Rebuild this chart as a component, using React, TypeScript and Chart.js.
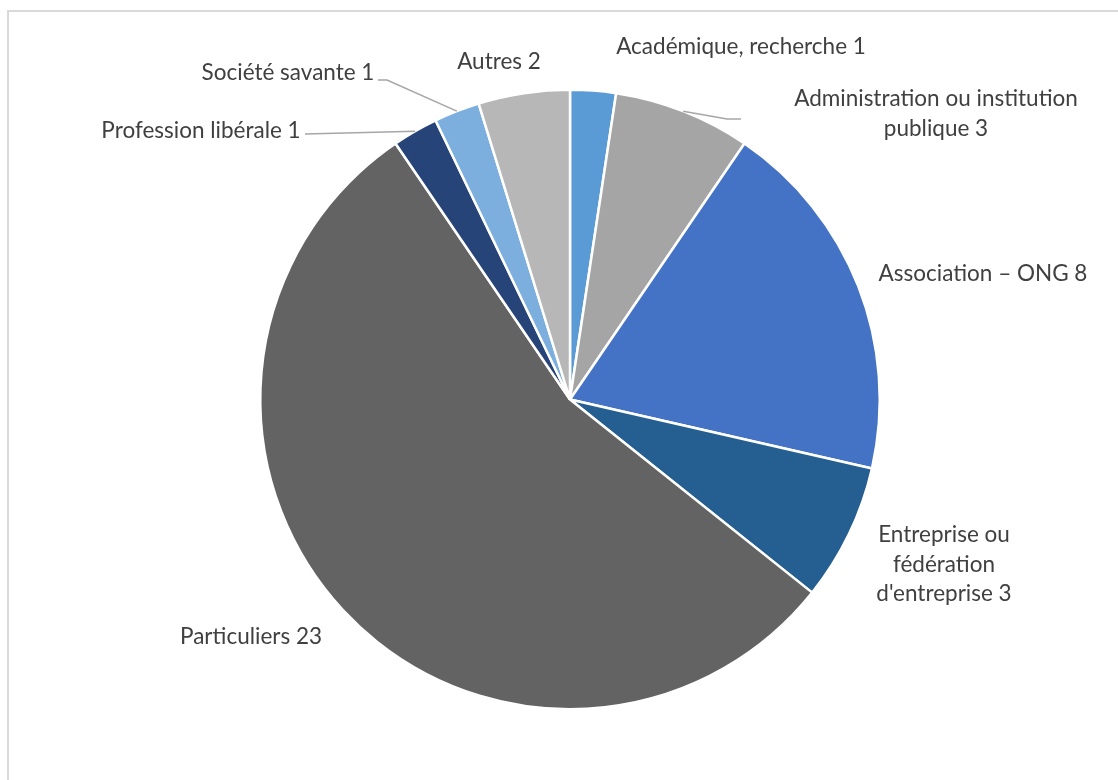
import React, { useEffect, useRef } from "react";
import { Chart, registerables } from "chart.js";

Chart.register(...registerables);

const categories = [
  "Académique, recherche",
  "Administration ou institution publique",
  "Association – ONG",
  "Entreprise ou fédération d'entreprise",
  "Particuliers",
  "Profession libérale",
  "Société savante",
  "Autres",
];
const values = [1, 3, 8, 3, 23, 1, 1, 2];
const colors = [
  "#5B9BD5",
  "#A5A5A5",
  "#4472C4",
  "#255E91",
  "#636363",
  "#264478",
  "#7CAFDD",
  "#B7B7B7",
];
const labelLines = [
  ["Académique, recherche 1"],
  ["Administration ou institution", "publique 3"],
  ["Association – ONG 8"],
  ["Entreprise ou", "fédération", "d'entreprise 3"],
  ["Particuliers 23"],
  ["Profession libérale 1"],
  ["Société savante 1"],
  ["Autres 2"],
];

// label layout (text centre x, first-line centre y), and optional leader line points
const labelLayout = [
  { x: 741, y: 47 },
  { x: 936, y: 99, leader: [[727, 119], [741, 119]] },
  { x: 983, y: 274 },
  { x: 944, y: 535 },
  { x: 251, y: 637 },
  { x: 201, y: 131, leader: [[305, 134]] },
  { x: 288, y: 73, leader: [[387, 80], [378, 80]] },
  { x: 499, y: 62 },
];

const FONT = "Lato, 'Open Sans', sans-serif";

const labelPlugin = {
  id: "pieLabels",
  afterDraw(chart: any) {
    const ctx = chart.ctx;
    const meta = chart.getDatasetMeta(0);
    ctx.save();
    meta.data.forEach((arc: any, i: number) => {
      const lay = labelLayout[i];
      if (lay.leader) {
        const mid = (arc.startAngle + arc.endAngle) / 2;
        const sx = arc.x + Math.cos(mid) * arc.outerRadius;
        const sy = arc.y + Math.sin(mid) * arc.outerRadius;
        ctx.beginPath();
        ctx.moveTo(sx, sy);
        lay.leader.forEach((p: number[]) => ctx.lineTo(p[0], p[1]));
        ctx.strokeStyle = "#A6A6A6";
        ctx.lineWidth = 1.5;
        ctx.stroke();
      }
      ctx.fillStyle = "#404040";
      ctx.font = `22.5px ${FONT}`;
      ctx.textAlign = "center";
      ctx.textBaseline = "middle";
      labelLines[i].forEach((t, k) => {
        ctx.fillText(t, lay.x, lay.y + k * 29.5);
      });
    });
    ctx.restore();
  },
};

export default function App() {
  const ref = useRef<HTMLCanvasElement>(null);
  useEffect(() => {
    if (!ref.current) return;
    const chart = new Chart(ref.current, {
      type: "pie",
      data: {
        labels: categories,
        datasets: [
          {
            data: values,
            backgroundColor: colors,
            borderColor: "#FFFFFF",
            borderWidth: 2.5,
          },
        ],
      },
      options: {
        animation: false,
        responsive: false,
        maintainAspectRatio: false,
        layout: { padding: { left: 259, right: 237, top: 88, bottom: 69 } },
        plugins: {
          legend: { display: false },
          tooltip: { enabled: false },
        },
      },
      plugins: [labelPlugin],
    });
    return () => chart.destroy();
  }, []);
  return (
    <div
      style={{
        position: "fixed",
        left: 0,
        top: 0,
        width: 1118,
        height: 780,
        overflow: "hidden",
        background: "#fff",
      }}
    >
      <div
        style={{
          position: "absolute",
          left: 7,
          top: 10,
          width: 1200,
          height: 900,
          borderLeft: "2px solid #D9D9D9",
          borderTop: "2px solid #D9D9D9",
        }}
      />
      <canvas
        ref={ref}
        width={1118}
        height={780}
        style={{ position: "absolute", left: 0, top: 0, width: 1118, height: 780 }}
      />
    </div>
  );
}
